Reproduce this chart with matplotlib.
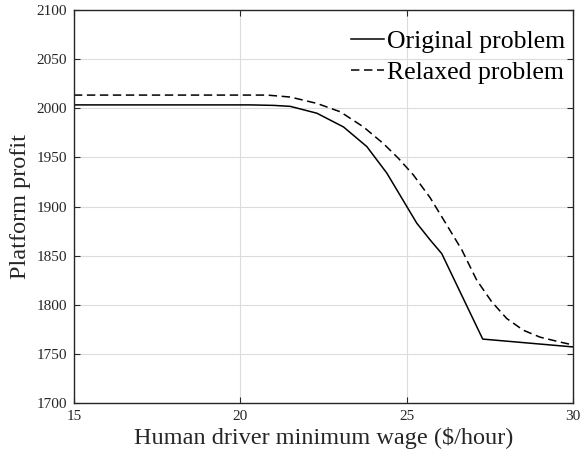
import matplotlib
matplotlib.use("Agg")
import matplotlib.pyplot as plt

plt.rcParams['font.family'] = ['Liberation Serif', 'DejaVu Serif']
plt.rcParams['mathtext.fontset'] = 'stix'

# data
wage_orig = [15, 20.3, 21.0, 21.5, 22.3, 23.1, 23.8, 24.4, 25.0, 25.3, 25.7, 26.05, 27.28, 30]
profit_orig = [2003.5, 2003.5, 2003, 2002, 1995, 1981, 1961, 1934, 1900, 1883, 1866, 1852, 1765, 1757]

wage_relax = [15, 20.8, 21.5, 22.3, 23.0, 23.7, 24.3, 24.75, 25.2, 25.7, 26.15, 26.65, 27.1, 27.55,
              28.0, 28.5, 29.0, 29.6, 30]
profit_relax = [2013.5, 2013.5, 2011.5, 2005, 1996.5, 1981, 1964, 1949, 1932, 1909, 1884, 1856, 1825, 1803,
                1786, 1774, 1767, 1762, 1759]

fig = plt.figure(figsize=(5.82, 4.61), dpi=100)
ax = fig.add_axes([0.127, 0.126, 0.858, 0.852])

ax.plot(wage_orig, profit_orig, color='black', lw=1.1, ls='-', label='Original problem')
ax.plot(wage_relax, profit_relax, color='black', lw=1.1, ls=(0, (5.5, 3)), label='Relaxed problem')

ax.set_xlim(15, 30)
ax.set_ylim(1700, 2100)
ax.set_xticks([15, 20, 25, 30])
ax.set_yticks(range(1700, 2101, 50))
ax.grid(True, color='#dcdcdc', lw=0.8)
ax.set_axisbelow(True)

ax.tick_params(direction='in', top=True, right=True, labelsize=11, colors='#262626', length=4, pad=5)
for s in ax.spines.values():
    s.set_color('#262626')
    s.set_linewidth(1.0)

ax.set_xlabel('Human driver minimum wage ($/hour)', fontsize=17.5, color='#262626', labelpad=3)
ax.set_ylabel('Platform profit', fontsize=17.5, color='#262626', labelpad=4)

ax.legend(loc='upper right', bbox_to_anchor=(1.005, 0.975), frameon=False, fontsize=18.5,
          handlelength=1.25, handletextpad=0.15, borderaxespad=0, labelspacing=0.3)

fig.savefig('out.png', dpi=100, facecolor='white')
plt.close(fig)
